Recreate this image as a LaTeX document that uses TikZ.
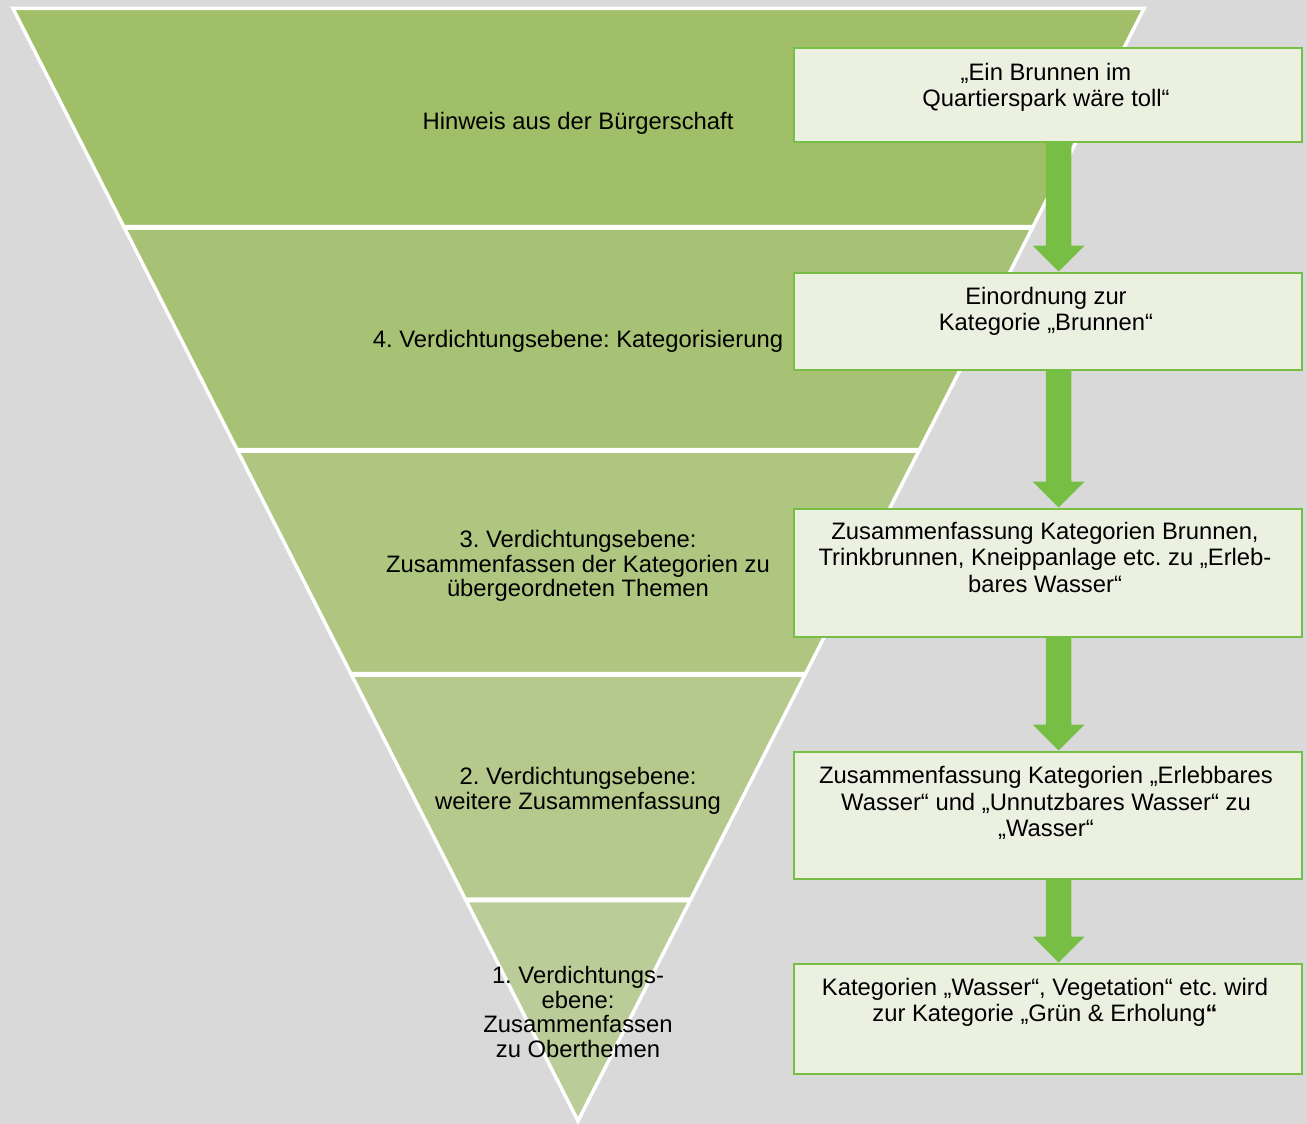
\documentclass[tikz,border=0pt]{standalone}
\usepackage{fontspec}
\setmainfont{Liberation Sans}
\usetikzlibrary{calc}
\frenchspacing
\definecolor{bgc}{HTML}{D9D9D9}
\definecolor{bandA}{HTML}{A1BE68}
\definecolor{bandB}{HTML}{A7C274}
\definecolor{bandC}{HTML}{AEC67F}
\definecolor{bandD}{HTML}{B4C98B}
\definecolor{bandE}{HTML}{BACC98}
\definecolor{boxfill}{HTML}{EBF0E0}
\definecolor{boxborder}{HTML}{76BF44}
\definecolor{arrowc}{HTML}{76BF44}
\newcommand\blockarrow[2]{%
  \fill[arrowc] let \p1=(#1.south), \p2=(#2.north) in
    (1045.75pt,\y1-1pt) -- (1071.25pt,\y1-1pt) -- (1071.25pt,\y2+27pt) -- (1084.5pt,\y2+27pt)
    -- (1058.5pt,\y2+1pt) -- (1032.5pt,\y2+27pt) -- (1045.75pt,\y2+27pt) -- cycle;}
\begin{document}
\begin{tikzpicture}[x=1pt,y=-1pt,
  declare function={Lx(\t)=13+0.5079*(\t-8.5); Rx(\t)=1144-0.5088*(\t-8.5);},
  band/.style={fill=#1, draw=white, line width=3.5pt, line join=miter},
  bandtext/.style={font=\fontsize{23.8}{24.8}\selectfont, align=center, inner sep=0pt, anchor=north, text=black},
  box/.style={draw=boxborder, line width=2pt, fill=boxfill, anchor=north west, inner sep=0pt, outer sep=0pt},
  boxtext/.style={font=\fontsize{23.8}{26.5}\selectfont, align=center, inner sep=0pt, anchor=north, text=black}]
\fill[bgc] (0,0) rectangle (1307,1124);
\useasboundingbox (0,0) rectangle (1307,1124);
% bands
\draw[band=bandA] ({Lx(8.5)},8.5) -- ({Rx(8.5)},8.5) -- ({Rx(226.5)},226.5) -- ({Lx(226.5)},226.5) -- cycle;
\draw[band=bandB] ({Lx(228)},228) -- ({Rx(228)},228) -- ({Rx(449.5)},449.5) -- ({Lx(449.5)},449.5) -- cycle;
\draw[band=bandC] ({Lx(451)},451) -- ({Rx(451)},451) -- ({Rx(673.5)},673.5) -- ({Lx(673.5)},673.5) -- cycle;
\draw[band=bandD] ({Lx(675)},675) -- ({Rx(675)},675) -- ({Rx(899)},899) -- ({Lx(899)},899) -- cycle;
\draw[band=bandE] ({Lx(900.5)},900.5) -- ({Rx(900.5)},900.5) -- (578,1121) -- cycle;
% band labels
\node[bandtext] (l1) at (578,111.64) {\strut Hinweis aus der Bürgerschaft};
\node[bandtext] (l2) at (578,329.64) {\strut 4. Verdichtungsebene: Kategorisierung};
\node[bandtext] (l3) at (578,529.64) {\strut 3. Verdichtungsebene:\\Zusammenfassen der Kategorien zu\\übergeordneten Themen};
\node[bandtext] (l4) at (578,766.64) {\strut 2. Verdichtungsebene:\\weitere Zusammenfassung};
\node[bandtext] (l5) at (578,965.64) {\strut 1. Verdichtungs-\\ebene:\\Zusammenfassen\\zu Oberthemen};
% boxes
\node[box, minimum width=508.5pt, minimum height=93pt] (b1) at (793.5,48.5) {};
\node[box, minimum width=508.5pt, minimum height=97.5pt] (b2) at (793.5,272.5) {};
\node[box, minimum width=508.5pt, minimum height=128.5pt] (b3) at (793.5,508.5) {};
\node[box, minimum width=508.5pt, minimum height=127.5pt] (b4) at (793.5,751.5) {};
\node[box, minimum width=508.5pt, minimum height=110.5pt] (b5) at (793.5,963.5) {};
\node[boxtext] (t1) at (1046,61.45) {\strut „Ein Brunnen im\\Quartierspark wäre toll“};
\node[boxtext] (t2) at (1046,285.45) {\strut Einordnung zur\\Kategorie „Brunnen“};
\node[boxtext] (t3) at (1045,520.45) {\strut Zusammenfassung Kategorien Brunnen,\\Trinkbrunnen, Kneippanlage etc. zu „Erleb-\\bares Wasser“};
\node[boxtext] (t4) at (1046,764.95) {\strut Zusammenfassung Kategorien „Erlebbares\\Wasser“ und „Unnutzbares Wasser“ zu\\„Wasser“};
\node[boxtext] (t5) at (1045,976.45) {\strut Kategorien „Wasser“, Vegetation“ etc. wird\\zur Kategorie „Grün \& Erholung\textbf{“}};
% arrows
\blockarrow{b1}{b2}
\blockarrow{b2}{b3}
\blockarrow{b3}{b4}
\blockarrow{b4}{b5}
\end{tikzpicture}
\end{document}
